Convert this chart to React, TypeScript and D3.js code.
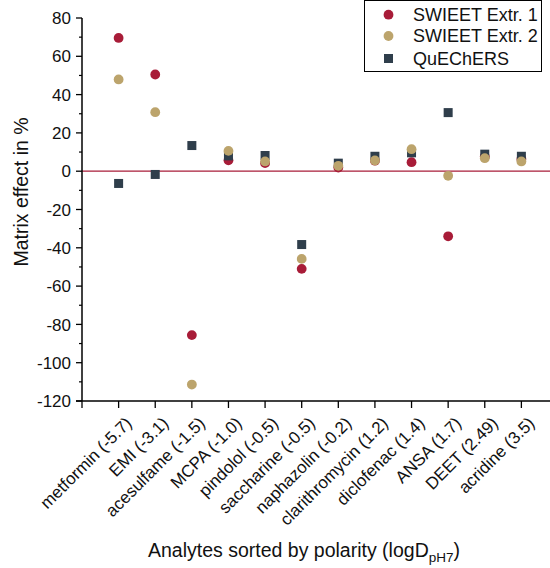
import React from "react";
import * as d3 from "d3";

const analytes = [
  "metformin (-5.7)",
  "EMI (-3.1)",
  "acesulfame (-1.5)",
  "MCPA (-1.0)",
  "pindolol (-0.5)",
  "saccharine (-0.5)",
  "naphazolin (-0.2)",
  "clarithromycin (1.2)",
  "diclofenac (1.4)",
  "ANSA (1.7)",
  "DEET (2.49)",
  "acridine (3.5)",
];
const swieet1 = [69.6, 50.5, -85.6, 5.7, 4.2, -51.0, 1.9, 5.5, 4.7, -34.0, 7.7, 6.4];
const swieet2 = [47.9, 30.8, -111.4, 10.6, 5.1, -45.8, 2.8, 5.6, 11.5, -2.4, 6.8, 5.1];
const quechers = [-6.4, -1.7, 13.4, 8.0, 8.2, -38.3, 4.2, 7.8, 9.6, 30.6, 8.9, 7.8];
const yTicks = [80, 60, 40, 20, 0, -20, -40, -60, -80, -100, -120];
const seriesNames = ["SWIEET Extr. 1", "SWIEET Extr. 2", "QuEChERS"];

const RED = "#A81C38";
const TAN = "#BCA46C";
const SLATE = "#2F3E4B";
const FONT = "'Liberation Sans', Arial, sans-serif";

export default function App() {
  const W = 550, H = 568;
  const x = d3.scaleLinear().domain([0, 13]).range([82, 558]);
  const y = d3.scaleLinear().domain([-120, 80]).range([401, 18]);
  const minor = d3.range(-110, 80, 20);
  const xTickIdx = d3.range(0, 13);

  return (
    <svg width={W} height={H} style={{ position: "absolute", left: 0, top: 0 }} fontFamily={FONT}>
      {/* zero line */}
      <line x1={x(0)} x2={W} y1={y(0)} y2={y(0)} stroke={RED} strokeWidth={1.2} />
      {/* y axis */}
      <line x1={x(0)} x2={x(0)} y1={y(80)} y2={y(-120)} stroke="#000" strokeWidth={1.5} />
      {yTicks.map((t) => (
        <g key={"yt" + t}>
          <line x1={x(0) - 6} x2={x(0)} y1={y(t)} y2={y(t)} stroke="#000" strokeWidth={1.3} />
          <text x={x(0) - 11} y={y(t)} dy="0.36em" textAnchor="end" fontSize={17} fill="#111">
            {t}
          </text>
        </g>
      ))}
      {minor.map((t) => (
        <line key={"ym" + t} x1={x(0) - 3} x2={x(0)} y1={y(t)} y2={y(t)} stroke="#000" strokeWidth={1.2} />
      ))}
      {/* x axis */}
      <line x1={x(0) - 6} x2={W} y1={y(-120)} y2={y(-120)} stroke="#000" strokeWidth={1.5} />
      {xTickIdx.map((i) => (
        <line key={"xt" + i} x1={x(i)} x2={x(i)} y1={y(-120)} y2={y(-120) + 7} stroke="#000" strokeWidth={1.3} />
      ))}
      {analytes.map((a, i) => (
        <text
          key={a}
          transform={`translate(${x(i + 1) + 10},${y(-120) + 19}) rotate(-45)`}
          textAnchor="end"
          dy="0.35em"
          fontSize={17}
          fill="#111"
        >
          {a}
        </text>
      ))}
      {/* points */}
      {swieet1.map((v, i) => (
        <circle key={"r" + i} cx={x(i + 1)} cy={y(v)} r={4.9} fill={RED} />
      ))}
      {quechers.map((v, i) => (
        <rect key={"q" + i} x={x(i + 1) - 4.5} y={y(v) - 4.5} width={9} height={9} fill={SLATE} />
      ))}
      {swieet2.map((v, i) => (
        <circle key={"t" + i} cx={x(i + 1)} cy={y(v)} r={4.9} fill={TAN} />
      ))}
      {/* axis titles */}
      <text transform={`translate(28,192) rotate(-90)`} textAnchor="middle" fontSize={19.5} fill="#111">
        Matrix effect in %
      </text>
      <text x={304} y={557} textAnchor="middle" fontSize={19.5} fill="#111">
        Analytes sorted by polarity (logD
        <tspan dy={5} fontSize={13.5}>pH7</tspan>
        <tspan dy={-5}>)</tspan>
      </text>
      {/* legend */}
      <rect x={364.5} y={0.5} width={177} height={71} fill="#fff" stroke="#000" strokeWidth={1} />
      {seriesNames.map((n, i) => {
        const ly = [14.7, 36, 58.5][i];
        return (
          <g key={n}>
            {i < 2 ? (
              <circle cx={388.5} cy={ly} r={4.9} fill={i === 0 ? RED : TAN} />
            ) : (
              <rect x={384} y={ly - 4.5} width={9} height={9} fill={SLATE} />
            )}
            <text x={413} y={ly} dy="0.36em" fontSize={18} fill="#111">
              {n}
            </text>
          </g>
        );
      })}
    </svg>
  );
}
